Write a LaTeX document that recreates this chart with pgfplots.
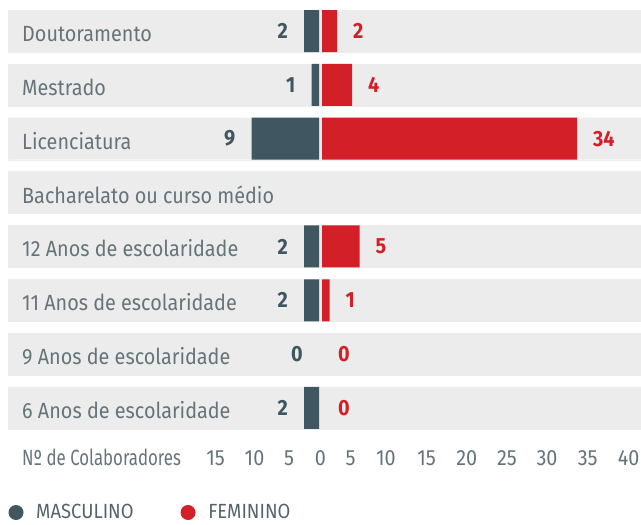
\documentclass[border=0pt]{standalone}
\usepackage{graphicx}
\usepackage{pgfplots}
\pgfplotsset{compat=1.18}
\usepackage{fontspec}
\setmainfont{Fira Sans}[FakeStretch=0.9]
\definecolor{male}{HTML}{405660}
\definecolor{female}{HTML}{D31F28}
\definecolor{band}{HTML}{ECECEC}
\definecolor{lbl}{HTML}{66747A}
\definecolor{leg}{HTML}{55646B}
\newcommand\lblfont{\fontsize{22bp}{26bp}\selectfont}
\newcommand\legfont{\fontsize{20.5bp}{24bp}\selectfont}
\begin{document}
\begin{tikzpicture}
\useasboundingbox (-8bp,-96bp) rectangle (633bp,429bp);
\begin{axis}[
  scale only axis, width=633bp, height=419bp,
  xmin=-41.667, xmax=42.733, ymin=-0.39, ymax=7.39,
  axis line style={draw=none}, tick style={draw=none}, major tick length=0pt,
  axis on top, clip=false,
  /pgf/number format/assume math mode=true,
  xtick={-14.0,-8.8,-4.2,0,4.0,8.73,14.15,19.5,24.87,30.2,35.63,41.08},
  xticklabels={15,10,5,0,5,10,15,20,25,30,35,40},
  xticklabel style={anchor=base, yshift=-36bp, inner sep=0pt, font=\lblfont, text=lbl},
  ytick={0,...,7},
  yticklabels={6 Anos de escolaridade, 9 Anos de escolaridade, 11 Anos de escolaridade, 12 Anos de escolaridade, Bacharelato ou curso médio, Licenciatura, Mestrado, Doutoramento},
  yticklabel style={anchor=base west, xshift=14bp, yshift=-10.5bp, inner sep=0pt, font=\lblfont, text=lbl},
  bar width=42bp, bar shift=0pt,
  legend style={draw=none, fill=none, at={(0.0005,-0.1993)}, anchor=west,
    inner sep=0pt, font=\legfont, text=leg,
    /tikz/every odd column/.append style={column sep=12.7bp},
    /tikz/every even column/.append style={column sep=47bp},
    nodes={inner sep=0pt}},
  legend columns=2, legend cell align=left,
]
% background bands
\addplot[xbar, fill=band, draw=band, line width=0.4bp, forget plot] coordinates {(42.733,0) (42.733,1) (42.733,2) (42.733,3) (42.733,4) (42.733,5) (42.733,6) (42.733,7)};
\addplot[xbar, fill=band, draw=band, line width=0.4bp, forget plot] coordinates {(-41.667,0) (-41.667,1) (-41.667,2) (-41.667,3) (-41.667,4) (-41.667,5) (-41.667,6) (-41.667,7)};
% bars
\addplot[xbar, fill=male, draw=none, xshift=-1.5bp,
  legend image code/.code={\fill[male] (0bp,0bp) circle (7.5bp);}]
  table[x expr=-\thisrow{m}, y=y] {
y m
7 2
6 1
5 9
3 2
2 2
0 2
};
\addlegendentry{MASCULINO}
\addplot[xbar, fill=female, draw=none, xshift=1.5bp,
  legend image code/.code={\fill[female] (0bp,0bp) circle (7.5bp);}]
  table[x=f, y=y] {
y f
7 2
6 4
5 34
3 5
2 1
};
\addlegendentry{FEMININO}
% value labels
\addplot[only marks, mark=none, forget plot, point meta=explicit,
  nodes near coords,
  every node near coord/.append style={anchor=east, xshift=-17.5bp, text=male, font=\bfseries\lblfont, inner sep=0pt}]
  table[x expr=-\thisrow{m}, y=y, meta=m] {
y m
7 2
6 1
5 9
3 2
2 2
1 0
0 2
};
\addplot[only marks, mark=none, forget plot, point meta=explicit,
  nodes near coords,
  every node near coord/.append style={anchor=west, xshift=17.5bp, text=female, font=\bfseries\lblfont, inner sep=0pt}]
  table[x=f, y=y, meta=f] {
y f
7 2
6 4
5 34
3 5
2 1
1 0
0 0
};
\node[anchor=base west, inner sep=0pt, font=\lblfont, text=lbl] at ([xshift=14bp,yshift=-36bp]axis description cs:0,0) {\scalebox{0.85}[1]{Nº de Colaboradores}};
\end{axis}
\end{tikzpicture}
\end{document}
